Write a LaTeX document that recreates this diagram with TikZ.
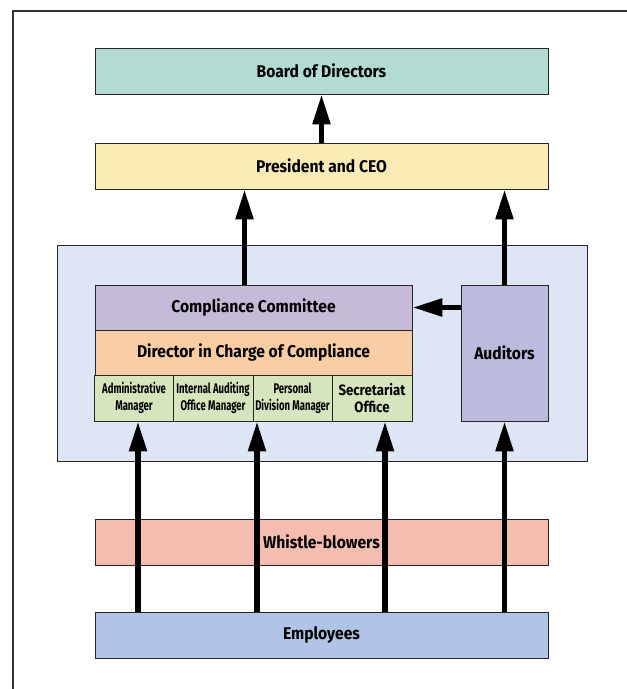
\documentclass[tikz,border=0pt]{standalone}
\usepackage{fontspec}
\usepackage{tikz}
\usetikzlibrary{arrows.meta,positioning,calc}
\newfontfamily\condfont{Fira Sans}[FakeStretch=0.92]
\newfontfamily\narrowfont{Fira Sans}[FakeStretch=0.68]
\newfontfamily\semifont{Fira Sans}[FakeStretch=0.88]
\definecolor{boardc}{HTML}{B2DCD2}
\definecolor{ceoc}{HTML}{FDEBB5}
\definecolor{groupc}{HTML}{DEE5F4}
\definecolor{commc}{HTML}{C6BAD9}
\definecolor{dirc}{HTML}{F9CDA4}
\definecolor{mgrc}{HTML}{D5E5BE}
\definecolor{audc}{HTML}{BCBADD}
\definecolor{whistc}{HTML}{F5BCB0}
\definecolor{empc}{HTML}{AFC4E6}
\tikzstyle{box}  =[draw=black!85, line width=0.9pt, inner sep=0pt,
                   minimum height=46pt, align=center,
                   font=\condfont\bfseries\fontsize{17}{20}\selectfont]
\tikzstyle{wide} =[box, minimum width=453pt]
\tikzstyle{mgr}  =[box, fill=mgrc, minimum width=79pt,
                   font=\narrowfont\bfseries\fontsize{14}{17}\selectfont]
\tikzstyle{edge} =[-{Triangle[length=30pt,width=17pt]}, line width=5.5pt]

\begin{document}
\begin{tikzpicture}[x=1pt,y=-1pt]
    \useasboundingbox (0,0) rectangle (627,689);
    \draw [line width=1.2pt, black!80] (13,689) -- (13,11) -- (627,11);

    \draw (57,245) rectangle (587,461) [fill=groupc, draw=black!85, line width=0.9pt];

    \draw (321.5,71) node (bod) [wide, fill=boardc] {Board of Directors};
    \draw (321.5,166) node (ceo) [wide, fill=ceoc] {President and CEO};
    \draw (253.5,307.5) node (cc) [box, fill=commc, minimum width=317pt, minimum height=45pt] {Compliance Committee};
    \draw (253.5,352.5) node (dcc) [box, fill=dirc, minimum width=317pt, minimum height=45pt] {Director in Charge of Compliance};
    \draw (134,398) node (adm) [mgr] {Administrative\\Manager};
    \draw (213,398) node (ia) [mgr, minimum width=80pt] {Internal Auditing\\Office Manager};
    \draw (292.5,398) node (pd) [mgr] {Personal\\Division Manager};
    \draw (372,398) node (so) [mgr, minimum width=80pt, font=\semifont\bfseries\fontsize{15}{17}\selectfont] {Secretariat\\Office};
    \draw (504.5,353) node (aud) [box, fill=audc, minimum width=87pt, minimum height=136pt] {Auditors};
    \draw (321.5,542) node (wb) [wide, fill=whistc] {Whistle-blowers};
    \draw (321.5,635) node (emp) [wide, fill=empc] {Employees};

    \draw [edge] (ceo) -- (bod);
    \draw [edge] ([xshift=-9pt]cc.north) -- ([xshift=-9pt]cc.north |- ceo.south);
    \draw [edge] (aud.north) -- (aud.north |- ceo.south);
    \draw [edge] (aud.west |- cc.east) -- (cc.east);

    \foreach \n/\dx in {adm/4,pd/-35.5,so/13,aud/0}
        \draw [edge] ([xshift=\dx pt]\n.south |- emp.north) -- ([xshift=\dx pt]\n.south);

\end{tikzpicture}
\end{document}
